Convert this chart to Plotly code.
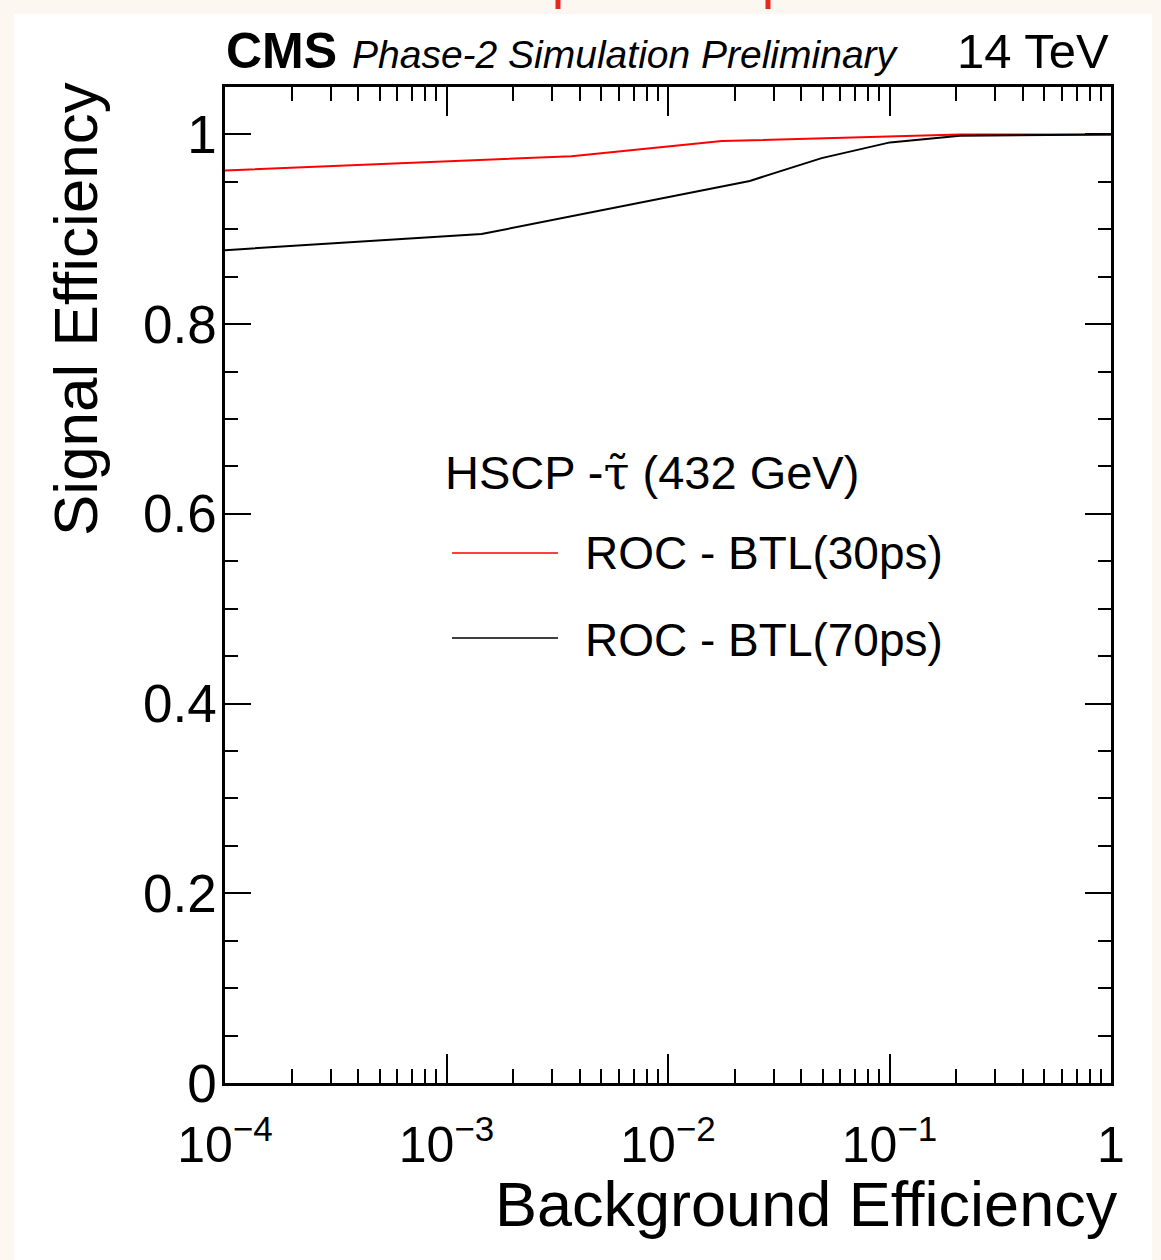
import plotly.graph_objects as go

# ---- data ----
bkg_30ps = [1e-4, 3.67e-3, 1.75e-2, 2.08e-1, 1.0]
sig_30ps = [0.962, 0.977, 0.993, 1.0, 1.0]

bkg_70ps = [1e-4, 1.44e-3, 2.34e-2, 4.94e-2, 1.005e-1, 2.08e-1, 1.0]
sig_70ps = [0.878, 0.895, 0.951, 0.975, 0.9916, 0.9985, 1.0]

x_tickvals = [1e-4, 1e-3, 1e-2, 1e-1, 1]
x_ticktext = ["10<sup>\u22124</sup>", "10<sup>\u22123</sup>", "10<sup>\u22122</sup>",
              "10<sup>\u22121</sup>", "1"]
x_minor = [k * 10.0 ** d for d in range(-4, 0) for k in range(2, 10)]
y_tickvals = [0, 0.2, 0.4, 0.6, 0.8, 1.0]
y_ticktext = ["0", "0.2", "0.4", "0.6", "0.8", "1"]

series_names = ["ROC - BTL(30ps)", "ROC - BTL(70ps)"]
series_colors = ["#ff0000", "#000000"]

FONT = "Liberation Sans, Arial, Helvetica, sans-serif"

# geometry helpers (pixel -> paper)
L, R, T, B = 225, 1111, 87, 1083
W, H = R - L, B - T
def px(x):
    return (x - L) / W
def py(y):
    return (B - y) / H

fig = go.Figure()
fig.add_trace(go.Scatter(x=bkg_30ps, y=sig_30ps, mode="lines",
                         line=dict(color=series_colors[0], width=2),
                         name=series_names[0], showlegend=False))
fig.add_trace(go.Scatter(x=bkg_70ps, y=sig_70ps, mode="lines",
                         line=dict(color=series_colors[1], width=2),
                         name=series_names[1], showlegend=False))

shapes = []
# white page panel over beige background
shapes.append(dict(type="rect", xref="paper", yref="paper", layer="below",
                   x0=px(14), x1=px(1152), y0=py(14), y1=py(1260),
                   fillcolor="white", line=dict(width=0)))
# small red marks at the very top
for cx in (558, 768):
    shapes.append(dict(type="rect", xref="paper", yref="paper",
                       x0=px(cx - 2.5), x1=px(cx + 2.5), y0=py(9), y1=py(0),
                       fillcolor="#e8281c", line=dict(width=0)))
# legend keys
for ly, col in ((553, series_colors[0]), (638, series_colors[1])):
    shapes.append(dict(type="line", xref="paper", yref="paper",
                       x0=px(452), x1=px(558), y0=py(ly), y1=py(ly),
                       line=dict(color=col, width=1.5)))

header = ('HSCP -<span style="font-family:DejaVu Serif, serif">\u03c4\u0303</span> (432 GeV)')

annotations = [
    dict(text="<b>CMS</b>", x=px(224), y=py(51), xanchor="left", yanchor="middle",
         font=dict(size=50, family=FONT, color="black")),
    dict(text="<i>Phase-2 Simulation Preliminary</i>", x=px(350), y=py(54),
         xanchor="left", yanchor="middle", font=dict(size=39, family=FONT, color="black")),
    dict(text="14 TeV", x=px(1111), y=py(51), xanchor="right", yanchor="middle",
         font=dict(size=49, family=FONT, color="black")),
    dict(text="Signal Efficiency", x=px(75), y=py(309), textangle=-90,
         xanchor="center", yanchor="middle", font=dict(size=62, family=FONT, color="black")),
    dict(text="Background Efficiency", x=px(1120), y=py(1204), xanchor="right",
         yanchor="middle", font=dict(size=63, family=FONT, color="black")),
    dict(text=header, x=px(443), y=py(472), xanchor="left",
         yanchor="middle", font=dict(size=47, family=FONT, color="black")),
    dict(text=series_names[0], x=px(583), y=py(553), xanchor="left", yanchor="middle",
         font=dict(size=46, family=FONT, color="black")),
    dict(text=series_names[1], x=px(583), y=py(640), xanchor="left", yanchor="middle",
         font=dict(size=46, family=FONT, color="black")),
]
for a in annotations:
    a.update(xref="paper", yref="paper", showarrow=False)

fig.update_layout(
    width=1161, height=1260,
    margin=dict(l=L, r=1161 - R, t=T, b=1260 - B, pad=0),
    paper_bgcolor="#fcf8f1", plot_bgcolor="white",
    shapes=shapes, annotations=annotations, showlegend=False,
    font=dict(family=FONT, color="black"),
)
fig.update_xaxes(
    type="log", range=[-4, 0],
    tickvals=x_tickvals, ticktext=x_ticktext,
    ticks="inside", ticklen=29, tickwidth=1.5, tickcolor="black",
    minor=dict(tickvals=x_minor, ticks="inside", ticklen=14, tickwidth=1.5, tickcolor="black"),
    showline=True, linecolor="black", linewidth=2.5, mirror="allticks",
    showgrid=False, zeroline=False,
    tickfont=dict(size=50, family=FONT, color="black"),
    ticklabelstandoff=16,
)
fig.update_yaxes(
    range=[0, 1.05],
    tickvals=y_tickvals, ticktext=y_ticktext,
    ticks="inside", ticklen=26, tickwidth=1.5, tickcolor="black",
    minor=dict(dtick=0.05, tick0=0, ticks="inside", ticklen=13, tickwidth=1.5, tickcolor="black"),
    showline=True, linecolor="black", linewidth=2.5, mirror="allticks",
    showgrid=False, zeroline=False,
    tickfont=dict(size=53, family=FONT, color="black"),
    ticklabelstandoff=-5,
)

fig.write_html("out.html")
